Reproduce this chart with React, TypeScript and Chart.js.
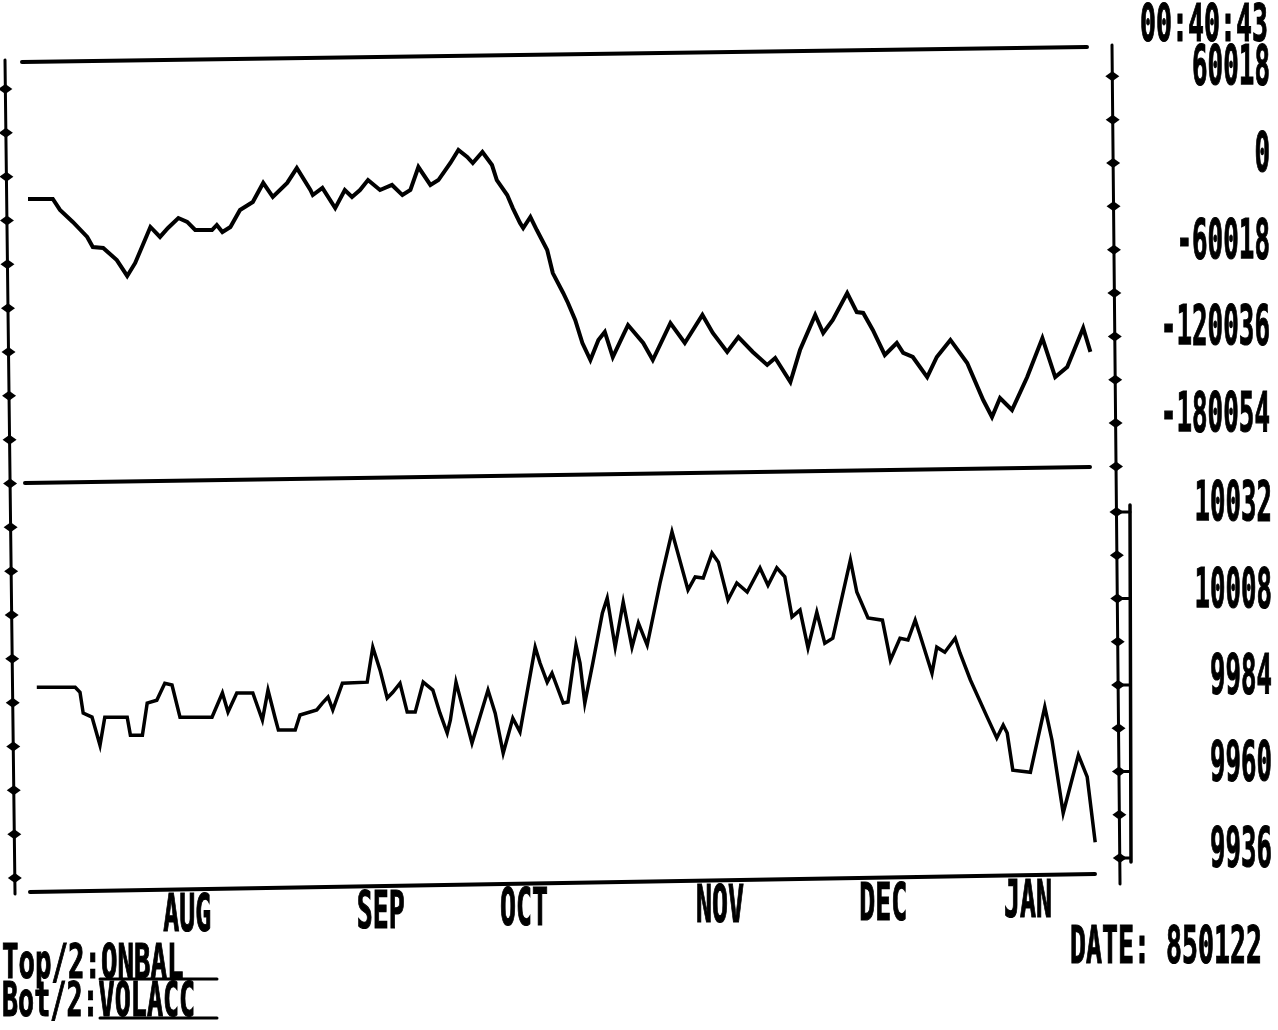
import React, { useEffect, useRef } from "react";
import { Chart, registerables } from "chart.js";
Chart.register(...registerables);

// ---- data (x = trading-day index from start of chart) ----
const topDays = [0, 3.1, 4.0, 5.6, 7.4, 8.1, 9.4, 11.1, 12.4, 13.4,
  15.3, 16.5, 17.5, 18.8, 19.9, 20.9, 23.0, 23.6, 24.3, 25.3,
  26.5, 28.1, 29.4, 30.6, 32.4, 33.6, 35.3, 35.6, 36.8, 38.4,
  39.6, 40.5, 41.5, 42.5, 44.0, 45.5, 46.8, 47.8, 48.8, 50.3,
  51.3, 52.8, 53.8, 54.9, 55.6, 56.8, 58.0, 58.6, 59.9, 60.6,
  61.5, 61.9, 62.8, 63.6, 64.9, 65.6, 66.9, 67.5, 68.4, 69.3,
  70.3, 71.3, 72.1, 73.1, 74.4, 75.0, 76.9, 78.1, 80.3, 82.1,
  84.3, 85.6, 87.4, 88.8, 90.6, 92.4, 93.4, 95.3, 96.5, 98.4,
  99.4, 100.6, 102.4, 103.6, 104.4, 105.6, 107.1, 108.6, 109.4, 110.6,
  112.4, 113.6, 115.3, 117.4, 119.4, 120.5, 121.5, 123.0, 124.9, 126.8,
  128.4, 129.9, 131.9, 132.8];
const topValues = [-24900, -24900, -32500, -40800, -51200, -58200, -58800, -67200, -78200, -69200,
  -44300, -51200, -45000, -38100, -40800, -46400, -46400, -42900, -47800, -44300,
  -32500, -27000, -13800, -23500, -13800, -3500, -18700, -22200, -17300, -31200,
  -18700, -23500, -18700, -11800, -18700, -15200, -22200, -18700, -2800, -15200,
  -11800, 0, 9000, 4200, 0, 7600, -1400, -11800, -22200, -31200,
  -41500, -45000, -37400, -46400, -60200, -76200, -90000, -96900, -108700, -124600,
  -136400, -122500, -117000, -134300, -119100, -112200, -124600, -136400, -110800, -124600,
  -105200, -117700, -130800, -120500, -130800, -139800, -135000, -151600, -129500, -105200,
  -117700, -108700, -90000, -103200, -103800, -115600, -132900, -124600, -131500, -134300,
  -148200, -134300, -122500, -138500, -164100, -175800, -162700, -171000, -148200, -121200,
  -148200, -141200, -114200, -130800];

const botDays = [1.1, 5.9, 6.5, 6.9, 8.0, 9.0, 9.6, 12.4, 12.8, 14.3,
  14.9, 16.1, 17.1, 18.0, 19.0, 23.0, 24.3, 25.0, 26.1, 28.1,
  29.3, 30.0, 30.9, 31.3, 33.4, 34.0, 36.1, 36.8, 37.5, 38.1,
  39.3, 42.4, 43.1, 44.0, 44.9, 45.6, 46.5, 47.4, 48.4, 49.4,
  50.6, 51.5, 52.4, 52.8, 53.5, 55.5, 57.5, 58.4, 59.4, 60.6,
  61.5, 63.4, 64.0, 64.9, 65.5, 66.9, 67.5, 68.5, 69.0, 69.6,
  70.6, 71.8, 72.4, 73.4, 74.4, 75.5, 76.3, 77.4, 79.0, 80.5,
  82.5, 83.4, 84.4, 85.5, 86.3, 87.5, 88.6, 89.9, 91.5, 92.5,
  93.6, 94.6, 95.5, 96.5, 97.5, 98.6, 99.6, 100.6, 102.8, 103.6,
  105.0, 106.8, 107.8, 109.0, 110.0, 110.9, 111.5, 113.0, 113.6, 114.6,
  115.9, 116.5, 117.8, 119.9, 121.1, 121.9, 122.4, 123.1, 125.3, 127.1,
  128.0, 129.4, 131.3, 132.4, 133.4];
const botValues = [9983.4, 9983.4, 9982.0, 9976.2, 9975.1, 9967.3, 9975.1, 9975.1, 9970.1, 9970.1,
  9979.0, 9979.8, 9984.5, 9984.0, 9975.1, 9975.1, 9981.8, 9976.5, 9981.8, 9981.8,
  9974.3, 9982.6, 9974.8, 9971.5, 9971.5, 9975.7, 9977.1, 9979.0, 9980.7, 9977.1,
  9984.5, 9984.8, 9994.5, 9988.2, 9980.4, 9982.0, 9984.5, 9976.5, 9976.5, 9984.8,
  9982.6, 9976.2, 9970.7, 9974.3, 9984.8, 9967.9, 9982.6, 9976.2, 9965.1, 9974.8,
  9971.0, 9994.5, 9990.1, 9984.8, 9987.3, 9979.0, 9979.3, 9995.1, 9990.1, 9979.0,
  9990.1, 10004.0, 10008.1, 9994.5, 10007.0, 9994.5, 10001.2, 9995.1, 10012.3, 10026.5,
  10010.4, 10014.0, 10013.7, 10020.6, 10018.1, 10007.6, 10012.3, 10009.8, 10016.5, 10011.7,
  10016.5, 10014.0, 10002.9, 10004.8, 9994.3, 10004.2, 9995.6, 9997.0, 10018.7, 10009.8,
  10002.6, 10002.0, 9990.9, 9997.0, 9996.5, 10002.0, 9997.9, 9987.3, 9994.5, 9993.1,
  9997.0, 9992.9, 9985.4, 9975.1, 9969.3, 9972.9, 9970.7, 9960.4, 9959.8, 9977.9,
  9968.7, 9948.5, 9964.6, 9958.5, 9940.4];

const topTickValues = [60018, 30009, 0, -30009, -60018, -90027, -120036, -150045, -180054, -210063];
const topLabelValues = [60018, 0, -60018, -120036, -180054];
const botTickValues = [10032, 10020, 10008, 9996, 9984, 9972, 9960, 9948, 9936];
const botLabelValues = [10032, 10008, 9984, 9960, 9936];
const leftTickValues = [0, 1, 2, 3, 4, 5, 6, 7, 8, 9, 10, 11, 12, 13, 14, 15, 16, 17, 18];
const monthLabels = ["AUG", "SEP", "OCT", "NOV", "DEC", "JAN"];
const monthDays = [19.9, 44.1, 62.0, 86.5, 106.9, 125.0];
const timeText = "00:40:43";
const dateText = "DATE: 850122";
const topCaption = ["Top/2:", "ONBAL"];
const botCaption = ["Bot/2:", "VOLACC"];

const FONT = '"DejaVu Sans Mono", "Liberation Mono", monospace';

// draws text on a fixed character grid, stretched tall like the old bitmap font
function gridText(ctx: CanvasRenderingContext2D, text: string, x: number, top: number, h: number, cell: number, align: string) {
  ctx.save();
  const fs = h / 0.73;
  ctx.font = `bold ${fs}px ${FONT}`;
  const m = ctx.measureText(text).width;
  const w = cell * text.length;
  const sx = w / m;
  const x0 = align === "right" ? x - w : align === "center" ? x - w / 2 : x;
  ctx.translate(x0, top + h);
  ctx.scale(sx, 1);
  ctx.textAlign = "left";
  ctx.textBaseline = "alphabetic";
  ctx.fillStyle = "#000";
  ctx.strokeStyle = "#000";
  ctx.lineWidth = 1.2;
  ctx.fillText(text, 0, 0);
  ctx.strokeText(text, 0, 0);
  ctx.restore();
}

function seg(ctx: CanvasRenderingContext2D, x1: number, y1: number, x2: number, y2: number, w: number) {
  ctx.beginPath();
  ctx.lineWidth = w;
  ctx.moveTo(x1, y1);
  ctx.lineTo(x2, y2);
  ctx.stroke();
}

function diamond(ctx: CanvasRenderingContext2D, cx: number, cy: number) {
  ctx.beginPath();
  ctx.moveTo(cx - 7, cy);
  ctx.lineTo(cx, cy - 5);
  ctx.lineTo(cx + 7, cy);
  ctx.lineTo(cx, cy + 5);
  ctx.closePath();
  ctx.fill();
}

const decorPlugin = {
  id: "decor",
  afterDatasetsDraw(chart: any) {
    const ctx: CanvasRenderingContext2D = chart.ctx;
    const sTop = chart.scales.yTop;
    const sBot = chart.scales.yBot;
    const sLeft = chart.scales.yLeft;
    const sx = chart.scales.x;
    ctx.save();
    ctx.strokeStyle = "#000";
    ctx.fillStyle = "#000";
    ctx.lineCap = "round";

    // frame lines (scan is slightly rotated)
    seg(ctx, 22, 62, 1087, 47, 4);
    seg(ctx, 25, 483, 1090, 467, 4);
    seg(ctx, 30, 892, 1095, 874, 4);

    // left axis
    const xl = (y: number) => 5 + (y - 60) * (10 / 832);
    seg(ctx, xl(60), 60, xl(894), 894, 3);
    leftTickValues.forEach((v) => {
      const y = sLeft.getPixelForValue(v);
      diamond(ctx, xl(y), y);
    });

    // right axis
    const xr = (y: number) => 1112 + (y - 45) * (8 / 837);
    seg(ctx, xr(45), 45, xr(884), 884, 3);
    topTickValues.forEach((v) => {
      const y = sTop.getPixelForValue(v);
      diamond(ctx, xr(y), y);
    });
    botTickValues.forEach((v) => {
      const y = sBot.getPixelForValue(v);
      diamond(ctx, xr(y), y);
    });
    // double bar on lower panel
    const yb1 = sBot.getPixelForValue(botLabelValues[0]);
    const yb2 = sBot.getPixelForValue(botLabelValues[botLabelValues.length - 1]);
    seg(ctx, 1130, yb1 - 7, 1131, yb2 + 4, 3.5);
    botLabelValues.forEach((v) => {
      const y = sBot.getPixelForValue(v);
      seg(ctx, xr(y), y, 1130, y, 3);
    });

    // right tick labels
    topLabelValues.forEach((v) => {
      const y = sTop.getPixelForValue(v) - 12;
      gridText(ctx, String(v), 1270, y - 20, 40, 15.6, "right");
    });
    botLabelValues.forEach((v) => {
      const y = sBot.getPixelForValue(v) - 12;
      gridText(ctx, String(v), 1272, y - 20, 40, 15.5, "right");
    });

    // month labels
    monthLabels.forEach((m, i) => {
      const cx = sx.getPixelForValue(monthDays[i]);
      const top = 894 - (cx - 187) * 0.0165;
      gridText(ctx, m, cx, top, 37, 16, "center");
    });

    // header / footer texts
    gridText(ctx, timeText, 1140, 3, 38, 16, "left");
    gridText(ctx, dateText, 1070, 926, 37, 16, "left");
    gridText(ctx, topCaption[0] + topCaption[1], 2, 943, 35, 16.5, "left");
    gridText(ctx, botCaption[0] + botCaption[1], 2, 981, 35, 16.1, "left");
    seg(ctx, 100, 979, 217, 979, 3);
    seg(ctx, 100, 1018, 217, 1018, 3);
    ctx.restore();
  },
};

export default function App() {
  const ref = useRef<HTMLCanvasElement | null>(null);
  useEffect(() => {
    if (!ref.current) return;
    const chart = new Chart(ref.current, {
      type: "line",
      data: {
        datasets: [
          {
            label: "ONBAL",
            data: topDays.map((d, i) => ({ x: d, y: topValues[i] })),
            yAxisID: "yTop",
            borderColor: "#000",
            borderWidth: 4,
            pointRadius: 0,
            tension: 0,
            fill: false,
          },
          {
            label: "VOLACC",
            data: botDays.map((d, i) => ({ x: d, y: botValues[i] })),
            yAxisID: "yBot",
            borderColor: "#000",
            borderWidth: 3.5,
            pointRadius: 0,
            tension: 0,
            fill: false,
          },
        ],
      },
      options: {
        animation: false,
        responsive: false,
        devicePixelRatio: 1,
        layout: { padding: { left: 20, right: 180, top: 47, bottom: 142 } },
        plugins: { legend: { display: false }, tooltip: { enabled: false }, title: { display: false } },
        scales: {
          x: { type: "linear", min: -1, max: 133.75, display: false },
          yTop: { type: "linear", min: -501900, max: 80300, display: false },
          yBot: { type: "linear", min: 9927.7, max: 10161, display: false },
          yLeft: { type: "linear", min: -0.228, max: 18.958, display: false },
        },
      },
      plugins: [decorPlugin],
    } as any);
    return () => chart.destroy();
  }, []);
  return (
    <div style={{ position: "absolute", left: 0, top: 0, width: 1278, height: 1030, background: "#fff" }}>
      <canvas ref={ref} width={1278} height={1030} />
    </div>
  );
}
